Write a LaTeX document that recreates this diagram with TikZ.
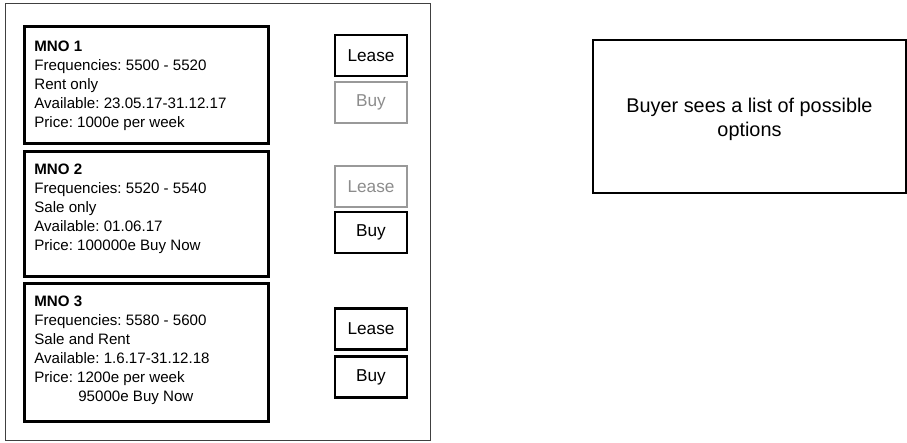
\documentclass[tikz,border=0pt]{standalone}
\usepackage{fontspec}
\setmainfont{Liberation Sans}
\frenchspacing
\begin{document}
\begin{tikzpicture}[x=0.02cm,y=-0.02cm,
    offer/.style={draw,line width=1.6pt,minimum width=4.88cm,anchor=north west,inner sep=0pt},
    info/.style={anchor=north west,align=left,inner sep=0pt,font=\fontsize{8.6}{10.8}\selectfont},
    btn/.style={draw,line width=1.4pt,minimum width=1.44cm,minimum height=0.82cm,inner sep=0pt,font=\fontsize{9.8}{12}\selectfont},
    off/.style={btn,draw=black!40,text=black!45}]
    \useasboundingbox (0,0) rectangle (907,443);
    % the screen of the buyer
    \node [draw=black!75,line width=0.6pt,minimum width=8.5cm,minimum height=8.74cm,
           anchor=north west,inner sep=0pt] (screen) at (5,3) {};
    \foreach \i/\y/\h in {1/25/2.34, 2/150/2.5, 3/282/2.76}
    {
    \node [offer,minimum height=\h cm] (mno\i) at (23,\y) {}; % one box per offer
    }

    \node [info] (mno1txt) at (34,41) {\textbf{MNO 1}\\Frequencies: 5500 - 5520\\Rent only\\
        Available: 23.05.17-31.12.17\\Price: 1000e per week};
    \node [info] (mno2txt) at (34,164) {\textbf{MNO 2}\\Frequencies: 5520 - 5540\\Sale only\\
        Available: 01.06.17\\Price: 100000e Buy Now};
    \node [info] (mno3txt) at (34,296) {\textbf{MNO 3}\\Frequencies: 5580 - 5600\\Sale and Rent\\
        Available: 1.6.17-31.12.18\\Price: 1200e per week\\\hspace*{0.88cm}95000e Buy Now};

    % buttons, grey ones are not possible
    \foreach \t/\n/\y/\s in {Lease/lease1/55.5/btn, Buy/buy1/102.5/off,
                             Lease/lease2/186.5/off, Buy/buy2/232.5/btn,
                             Lease/lease3/329/btn, Buy/buy3/377/btn}
    {
    \node [\s] (\n) at (371,\y) {\t};
    }

    \node [draw,line width=1.1pt,minimum width=6.26cm,minimum height=3.06cm] (note) at (749.5,116.5) {};
    \node [align=center,font=\fontsize{11.3}{14}\selectfont] (notetxt) at ([yshift=-0.06cm]note.center)
        {Buyer sees a list of possible\\options};
\end{tikzpicture}
\end{document}
